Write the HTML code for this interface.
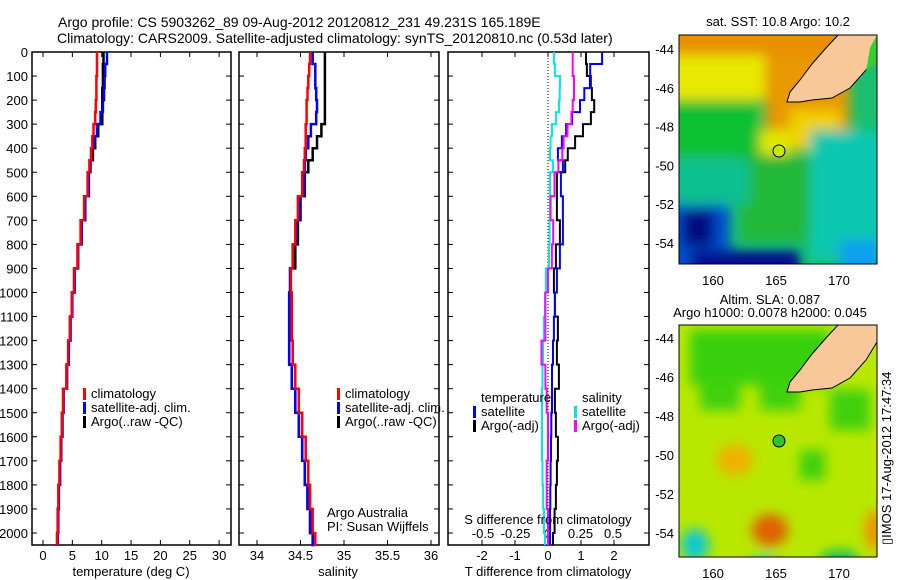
<!DOCTYPE html>
<html><head><meta charset="utf-8">
<style>
body{margin:0;background:#fff;}
svg{display:block;font-family:"Liberation Sans",sans-serif;}
text{font-size:13px;fill:#000;}
</style></head>
<body>
<svg id="chart" width="900" height="580" viewBox="0 0 900 580" xmlns="http://www.w3.org/2000/svg">
<defs>
<filter id="blur" x="-50%" y="-50%" width="200%" height="200%"><feGaussianBlur stdDeviation="6"/></filter>
<clipPath id="clipTop"><rect x="679" y="35" width="198" height="229"/></clipPath>
<clipPath id="clipBot"><rect x="679" y="325" width="198" height="232"/></clipPath>
</defs>
<text x="58" y="27" style="font-size:14px">Argo profile: CS 5903262_89 09-Aug-2012 20120812_231 49.231S 165.189E</text>
<text x="57" y="43" style="font-size:14px">Climatology: CARS2009. Satellite-adjusted climatology: synTS_20120810.nc (0.53d later)</text>

<g id="panels"></g>

<!-- top map -->
<g>
<text x="778" y="26" text-anchor="middle">sat. SST: 10.8  Argo: 10.2</text>
<g clip-path="url(#clipTop)">
<rect x="679" y="35" width="198" height="229" fill="#18c070"/>
<g filter="url(#blur)">
<rect x="640" y="20" width="260" height="40" fill="#e89000"/>
<rect x="660" y="55" width="110" height="45" fill="#e8e800"/>
<rect x="765" y="55" width="85" height="85" fill="#e89800"/>
<rect x="750" y="130" width="40" height="25" fill="#e0e800"/>
<rect x="790" y="110" width="50" height="40" fill="#f0d000"/>
<rect x="660" y="100" width="100" height="55" fill="#10c030"/>
<rect x="740" y="155" width="70" height="85" fill="#20b838"/>
<rect x="810" y="130" width="80" height="130" fill="#10c8b0"/>
<rect x="660" y="160" width="90" height="45" fill="#10c090"/>
<rect x="660" y="205" width="70" height="70" fill="#0050d0"/>
<rect x="682" y="210" width="32" height="36" fill="#001080"/>
<rect x="690" y="250" width="110" height="30" fill="#001090"/>
<rect x="840" y="240" width="40" height="40" fill="#10a0f0"/>
</g>
<polygon points="838,35 877,35 877,52 866,70 850,88 832,98 812,100 800,102 787,102 790,92 800,80 812,64 826,48" fill="#f8c898" stroke="#000" stroke-width="1"/>
<polygon points="877,35 877,60 866,72 870,48" fill="#30d030"/>
<circle cx="779" cy="151" r="6" fill="#c8e800" stroke="#000"/>
</g>
<rect x="679" y="35" width="198" height="229" fill="none" stroke="#000"/>
</g>

<!-- bottom map -->
<g>
<text x="770" y="304" text-anchor="middle">Altim. SLA: 0.087</text>
<text x="770" y="317" text-anchor="middle">Argo h1000: 0.0078 h2000: 0.045</text>
<g clip-path="url(#clipBot)">
<rect x="679" y="325" width="198" height="232" fill="#b8e800"/>
<g filter="url(#blur)">
<rect x="690" y="330" width="140" height="55" fill="#38d010"/>
<rect x="700" y="380" width="40" height="30" fill="#40d010"/>
<rect x="760" y="380" width="40" height="30" fill="#40d010"/>
<rect x="830" y="390" width="40" height="40" fill="#40d010"/>
<rect x="800" y="450" width="25" height="30" fill="#40d010"/>
<ellipse cx="735" cy="460" rx="18" ry="16" fill="#f0b000"/>
<ellipse cx="770" cy="530" rx="18" ry="16" fill="#e06000"/>
<ellipse cx="695" cy="545" rx="14" ry="16" fill="#10c8d0"/>
<ellipse cx="765" cy="570" rx="18" ry="14" fill="#10c8d0"/>
<ellipse cx="875" cy="530" rx="10" ry="20" fill="#f09000"/>
<ellipse cx="840" cy="560" rx="20" ry="10" fill="#10c060"/>
</g>
<polygon points="838,325 877,325 877,342 866,360 850,378 832,388 812,390 800,392 787,392 790,382 800,370 812,354 826,338" fill="#f8c898" stroke="#000" stroke-width="1"/>
<circle cx="779" cy="441" r="6" fill="#30c030" stroke="#000"/>
</g>
<rect x="679" y="325" width="198" height="232" fill="none" stroke="#000"/>
<text transform="translate(891,545) rotate(-90)">▯IMOS 17-Aug-2012 17:47:34</text>
</g>
</svg>
<script>
// Depth levels (m)
const depths=[0,50,100,150,200,250,300,350,400,450,500,600,700,800,900,1000,1100,1200,1300,1400,1500,1600,1700,1800,1900,2000,2050];
// Temperature (deg C)
const tClim=[9.2,9.2,9.1,9.1,9.0,8.9,8.6,8.4,8.2,7.9,7.6,7.0,6.4,5.9,5.3,4.9,4.6,4.3,4.0,3.4,3.2,3.0,2.8,2.6,2.5,2.4,2.4];
const tSat=[10.9,10.6,10.5,10.4,10.2,9.8,9.2,8.7,8.2,8.0,7.8,7.2,6.6,6.0,5.4,5.0,4.7,4.4,4.1,3.5,3.3,3.1,2.9,2.7,2.6,2.5,2.5];
const tArgo=[10.3,10.2,10.2,10.1,10.1,10.1,9.4,8.9,8.5,8.1,7.8,7.1,6.5,5.9,5.3,4.9,4.6,4.3,4.0,3.5,3.3,3.1,2.9,2.7,2.5,2.4,2.4];
// Salinity
const sClim=[34.61,34.60,34.59,34.58,34.57,34.57,34.56,34.56,34.55,34.54,34.52,34.47,34.44,34.41,34.39,34.40,34.40,34.41,34.44,34.48,34.52,34.56,34.59,34.61,34.64,34.67,34.68];
const sSat=[34.64,34.67,34.67,34.68,34.69,34.68,34.62,34.59,34.56,34.55,34.54,34.49,34.45,34.41,34.38,34.37,34.37,34.37,34.40,34.44,34.48,34.52,34.55,34.58,34.61,34.64,34.65];
const sArgo=[34.78,34.78,34.78,34.78,34.78,34.78,34.74,34.69,34.64,34.59,34.55,34.50,34.47,34.44,34.38,34.37,34.37,34.37,34.40,34.44,34.48,34.52,34.55,34.58,34.61,34.64,34.65];
// Differences from climatology
const dTSat=[1.64,1.28,1.30,1.10,0.97,0.73,0.55,0.42,0.30,0.45,0.39,0.45,0.45,0.36,0.27,0.21,0.18,0.15,0.12,0.12,0.10,0.09,0.08,0.07,0.06,0.06,0.06];
const dTArgo=[1.15,1.18,1.27,1.33,1.40,1.30,1.06,0.82,0.60,0.52,0.27,0.27,0.36,0.24,0.18,0.21,0.30,0.27,0.33,0.21,0.24,0.30,0.27,0.24,0.20,0.15,0.15];
const dSSat=[0.046,0.054,0.092,0.090,0.085,0.062,0.031,0.020,0.015,0.038,0.015,0.015,0.012,0.008,-0.015,-0.023,-0.031,-0.038,-0.042,-0.046,-0.046,-0.046,-0.042,-0.038,-0.031,-0.023,-0.023];
const dSArgo=[0.19,0.19,0.20,0.20,0.19,0.18,0.15,0.12,0.11,0.08,0.05,0.02,0.04,0.03,0.00,-0.02,-0.02,-0.05,-0.02,-0.01,0.00,0.00,-0.01,-0.01,0.00,0.00,0.00];
const depthTicks=[0,100,200,300,400,500,600,700,800,900,1000,1100,1200,1300,1400,1500,1600,1700,1800,1900,2000];
const tTicks=[0,5,10,15,20,25,30];
const sTicks=[34,34.5,35,35.5,36];
const sTickLabels=["34","34.5","35","35.5","36"];
const dTTicks=[-2,-1,0,1,2];
const dSTicks=[-0.5,-0.25,0,0.25,0.5];
const dSTickLabels=["-0.5","-0.25","0","0.25","0.5"];

const NS='http://www.w3.org/2000/svg';
const root=document.getElementById('panels');
const Y0=52,Y1=552;
const yD=d=>Y0+d*0.2405;
function mk(tag,attrs,parent){const e=document.createElementNS(NS,tag);for(const k in attrs)e.setAttribute(k,attrs[k]);(parent||root).appendChild(e);return e;}
function stepPath(vals,xf){let p='';for(let i=0;i<depths.length;i++){const x=xf(vals[i]).toFixed(1);const y=yD(depths[i]).toFixed(1);if(i===0)p+='M'+x+','+y;else p+=' V'+y+' H'+x;}return p;}
function series(g,vals,xf,color,name,w){const p=mk('path',{d:stepPath(vals,xf),fill:'none',stroke:color,'stroke-width':w||2.5},g);

}
function panel(name){const g=mk('g',{});


return g;}
function frame(g,x0,x1){mk('rect',{x:x0,y:Y0,width:x1-x0,height:Y1-Y0-7,fill:'none',stroke:'#000','stroke-width':1.5},g);}
function xTicks(g,ticks,labels,xf,ly,top){ticks.forEach((t,i)=>{const x=xf(t);
mk('line',{x1:x,x2:x,y1:Y1-7,y2:Y1-12,stroke:'#000'},g);
if(top)mk('line',{x1:x,x2:x,y1:Y0,y2:Y0+5,stroke:'#000'},g);
const tx=mk('text',{x:x,y:ly,'text-anchor':'middle'},g);tx.textContent=labels[i];

});}
function yTicks(g,x0,x1){depthTicks.forEach(d=>{const y=yD(d);mk('line',{x1:x0,x2:x0+5,y1:y,y2:y,stroke:'#000'},g);mk('line',{x1:x1,x2:x1-5,y1:y,y2:y,stroke:'#000'},g);});}
function legend(g,x,y,items){items.forEach((it,i)=>{const yy=y+i*14;mk('rect',{x:x,y:yy-10,width:3,height:12,fill:it[1]},g);const t=mk('text',{x:x+8,y:yy},g);t.textContent=it[0];

});}
function label(g,x,y,s,name,anchor){const t=mk('text',{x:x,y:y,'text-anchor':anchor||'middle'},g);t.textContent=s;

}

// Panel 1: temperature
const xT=v=>43+v*5.87;
let g=panel('temperature-panel');
frame(g,32,231);yTicks(g,32,231);
depthTicks.forEach(d=>{const t=mk('text',{x:28,y:yD(d)+5,'text-anchor':'end'},g);t.textContent=d;

});
xTicks(g,tTicks,tTicks.map(String),xT,560,true);
series(g,tArgo,xT,'#000','temp-argo-line');
series(g,tSat,xT,'#0000ff','temp-satellite-line');
series(g,tClim,xT,'#ff0000','temp-climatology-line');
legend(g,83,398,[['climatology','#ff0000'],['satellite-adj. clim.','#0000ff'],['Argo(..raw -QC)','#000']]);
label(g,131,576,'temperature (deg C)','x-axis-title-temperature');

// Panel 2: salinity
const xS=v=>257+(v-34)*87;
g=panel('salinity-panel');
frame(g,239,439);yTicks(g,239,439);
xTicks(g,sTicks,sTickLabels,xS,560,true);
series(g,sArgo,xS,'#000','sal-argo-line');
series(g,sSat,xS,'#0000ff','sal-satellite-line');
series(g,sClim,xS,'#ff0000','sal-climatology-line');
legend(g,337,398,[['climatology','#ff0000'],['satellite-adj. clim.','#0000ff'],['Argo(..raw -QC)','#000']]);
label(g,327,517,'Argo Australia','credit-text','start');
label(g,327,531,'PI: Susan Wijffels','pi-text','start');
label(g,338,576,'salinity','x-axis-title-salinity');

// Panel 3: differences
const xDT=v=>548+v*33;
const xDS=v=>548+v*130;
g=panel('difference-panel');
frame(g,448,649);yTicks(g,448,649);
mk('line',{x1:548,x2:548,y1:Y0,y2:Y1-7,stroke:'#000','stroke-dasharray':'1,2'},g);
xTicks(g,dTTicks,dTTicks.map(String),xDT,560,true);
dSTicks.forEach((t,i)=>{const tx=mk('text',{x:xDS(t),y:538,'text-anchor':'middle'},g);tx.textContent=dSTickLabels[i];

});
series(g,dTArgo,xDT,'#000','tdiff-argo-line',2);
series(g,dTSat,xDT,'#0000ff','tdiff-satellite-line',2);
series(g,dSSat,xDS,'#00e8e8','sdiff-satellite-line',2);
series(g,dSArgo,xDS,'#ff00ff','sdiff-argo-line',2);
label(g,481,402,'temperature','legend-temperature-title','start');
label(g,582,402,'salinity','legend-salinity-title','start');
legend(g,473,416,[['satellite','#0000ff'],['Argo(-adj)','#000']]);
legend(g,574,416,[['satellite','#00e8e8'],['Argo(-adj)','#ff00ff']]);
label(g,548,524,'S difference from climatology','s-diff-axis-title');
label(g,548,576,'T difference from climatology','t-diff-axis-title');

// Map axis ticks
function mapAxes(yTop,yBot,latY){const mg=mk('g',{});


[160,165,170].forEach(l=>{const x=713+(l-160)*12.6;mk('line',{x1:x,x2:x,y1:yTop,y2:yTop+4,stroke:'#000'},mg);mk('line',{x1:x,x2:x,y1:yBot,y2:yBot-4,stroke:'#000'},mg);const t=mk('text',{x:x,y:yBot+21,'text-anchor':'middle'},mg);t.textContent=l;

});
[-44,-46,-48,-50,-52,-54].forEach(l=>{const y=latY(l);mk('line',{x1:679,x2:683,y1:y,y2:y,stroke:'#000'},mg);mk('line',{x1:877,x2:873,y1:y,y2:y,stroke:'#000'},mg);const t=mk('text',{x:674,y:y+5,'text-anchor':'end'},mg);t.textContent=l;

});}
mapAxes(35,264,l=>49+(-44-l)*19.4);
mapAxes(325,557,l=>338+(-44-l)*19.5);
</script>
</body></html>
